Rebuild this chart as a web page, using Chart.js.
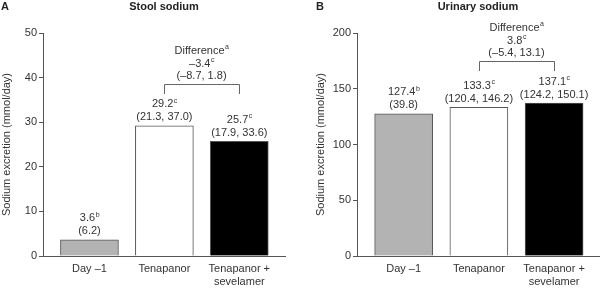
<!DOCTYPE html>
<html lang="en">
<head>
  <meta charset="UTF-8" />
  <title>Stool and urinary sodium</title>
  <script src="https://cdn.jsdelivr.net/npm/chart.js"></script>
  <style>
    body { margin: 0; background: #fff; }
    .wrap { position: relative; width: 600px; height: 288px; }
    .panel { position: absolute; top: 0; width: 300px; height: 288px; }
    .head { position: absolute; top: 0; line-height: 13px; font: bold 11px Arial, "Liberation Sans", sans-serif; color: #222; }
    .mid { width: 200px; margin-left: -100px; text-align: center; }
  </style>
</head>
<body>
  <div class="wrap">
    <div class="panel" style="left:0"><canvas id="stool" width="300" height="288"></canvas></div>
    <div class="panel" style="left:300px"><canvas id="urinary" width="300" height="288"></canvas></div>
    <div class="head" style="left:1px">A</div>
    <div class="head mid" style="left:164px">Stool sodium</div>
    <div class="head" style="left:316px">B</div>
    <div class="head mid" style="left:478px">Urinary sodium</div>
  </div>

  <script>
    const categories = ['Day –1', 'Tenapanor', ['Tenapanor +', 'sevelamer']];
    const barColors = ['#b3b3b3', '#ffffff', '#000000'];

    const stoolMeans = [3.6, 29.2, 25.7];
    const stoolSpread = ['(6.2)', '(21.3, 37.0)', '(17.9, 33.6)'];
    const stoolMarks = ['b', 'c', 'c'];
    const stoolDiff = ['–3.4', 'c', '(–8.7, 1.8)'];
    const stoolTicks = [0, 10, 20, 30, 40, 50];

    const urinaryMeans = [127.4, 133.3, 137.1];
    const urinarySpread = ['(39.8)', '(120.4, 146.2)', '(124.2, 150.1)'];
    const urinaryMarks = ['b', 'c', 'c'];
    const urinaryDiff = ['3.8', 'c', '(–5.4, 13.1)'];
    const urinaryTicks = [0, 50, 100, 150, 200];

    const FONT = 'Arial, "Liberation Sans", sans-serif';
    Chart.defaults.font.family = FONT;
    Chart.defaults.font.size = 11;
    Chart.defaults.color = '#333';

    function withSup(ctx, main, sup, cx, y) {
      ctx.font = '11px ' + FONT;
      const w1 = ctx.measureText(main).width;
      ctx.font = '7px ' + FONT;
      const w2 = ctx.measureText(sup).width;
      const x0 = cx - (w1 + w2) / 2;
      ctx.textAlign = 'left';
      ctx.textBaseline = 'middle';
      ctx.font = '11px ' + FONT;
      ctx.fillText(main, x0, y);
      ctx.font = '7px ' + FONT;
      ctx.fillText(sup, x0 + w1 + 0.5, y - 3.5);
    }

    const notesPlugin = {
      id: 'notes',
      afterDatasetsDraw(chart, args, opts) {
        const ctx = chart.ctx;
        const xs = chart.scales.x, ys = chart.scales.y;
        const vals = opts.means;
        ctx.save();
        ctx.fillStyle = '#333';
        const firstLines = [];
        vals.forEach((v, i) => {
          const cx = xs.getPixelForValue(i);
          const top = ys.getPixelForValue(v);
          withSup(ctx, v.toFixed(1), opts.marks[i], cx, top - 21.5);
          ctx.font = '11px ' + FONT;
          ctx.textAlign = 'center';
          ctx.fillText(opts.spread[i], cx, top - 8.5);
          firstLines.push(top - 21.5);
        });
        // bracket between bar 2 and bar 3
        const x1 = Math.round(xs.getPixelForValue(1)), x2 = Math.round(xs.getPixelForValue(2));
        const tip = Math.round(Math.min(firstLines[1], firstLines[2]) - 10.5);
        const lineY = tip - 10;
        ctx.strokeStyle = '#666';
        ctx.lineWidth = 1;
        ctx.beginPath();
        ctx.moveTo(x1 + 0.5, tip);
        ctx.lineTo(x1 + 0.5, lineY + 0.5);
        ctx.lineTo(x2 + 0.5, lineY + 0.5);
        ctx.lineTo(x2 + 0.5, tip);
        ctx.stroke();
        const mid = (x1 + x2) / 2;
        withSup(ctx, 'Difference', 'a', mid, lineY - 33);
        withSup(ctx, opts.diff[0], opts.diff[1], mid, lineY - 20.5);
        ctx.font = '11px ' + FONT;
        ctx.textAlign = 'center';
        ctx.fillText(opts.diff[2], mid, lineY - 8);
        ctx.restore();
      }
    };

    function makeChart(id, means, ticks, notes, padLeft, padRight) {
      return new Chart(document.getElementById(id), {
        type: 'bar',
        data: {
          datasets: [{
            data: means.map((v, i) => ({ x: i, y: v })),
            backgroundColor: barColors,
            borderColor: '#555',
            borderWidth: 1,
            borderSkipped: 'bottom',
            barThickness: 58
          }]
        },
        options: {
          responsive: false,
          animation: false,
          layout: { padding: { top: 33, left: padLeft, right: padRight, bottom: 0 } },
          plugins: { legend: { display: false }, tooltip: { enabled: false }, notes: notes },
          scales: {
            x: {
              type: 'linear',
              offset: false,
              min: -0.62,
              max: 2.61,
              grid: { display: false, drawTicks: false, offset: false },
              border: { display: true, color: '#555' },
              afterBuildTicks: s => { s.ticks = categories.map((c, i) => ({ value: i })); },
              afterFit: s => { s.height = 32; },
              ticks: {
                autoSkip: false,
                maxRotation: 0,
                padding: 6,
                color: '#333',
                callback: v => categories[v]
              }
            },
            y: {
              min: ticks[0],
              max: ticks[ticks.length - 1],
              afterBuildTicks: s => { s.ticks = ticks.map(v => ({ value: v })); },
              afterFit: s => { s.width = 43; },
              grid: { drawOnChartArea: false, tickLength: 4, color: '#555' },
              border: { display: true, color: '#555' },
              ticks: { padding: 2, color: '#333' },
              title: {
                display: true,
                text: 'Sodium excretion (mmol/day)',
                color: '#333',
                padding: 0,
                font: { size: 11 }
              }
            }
          }
        },
        plugins: [notesPlugin]
      });
    }

    makeChart('stool', stoolMeans, stoolTicks,
      { means: stoolMeans, spread: stoolSpread, marks: stoolMarks, diff: stoolDiff }, 0, 15);
    makeChart('urinary', urinaryMeans, urinaryTicks,
      { means: urinaryMeans, spread: urinarySpread, marks: urinaryMarks, diff: urinaryDiff }, 14, 0);
  </script>
</body>
</html>
